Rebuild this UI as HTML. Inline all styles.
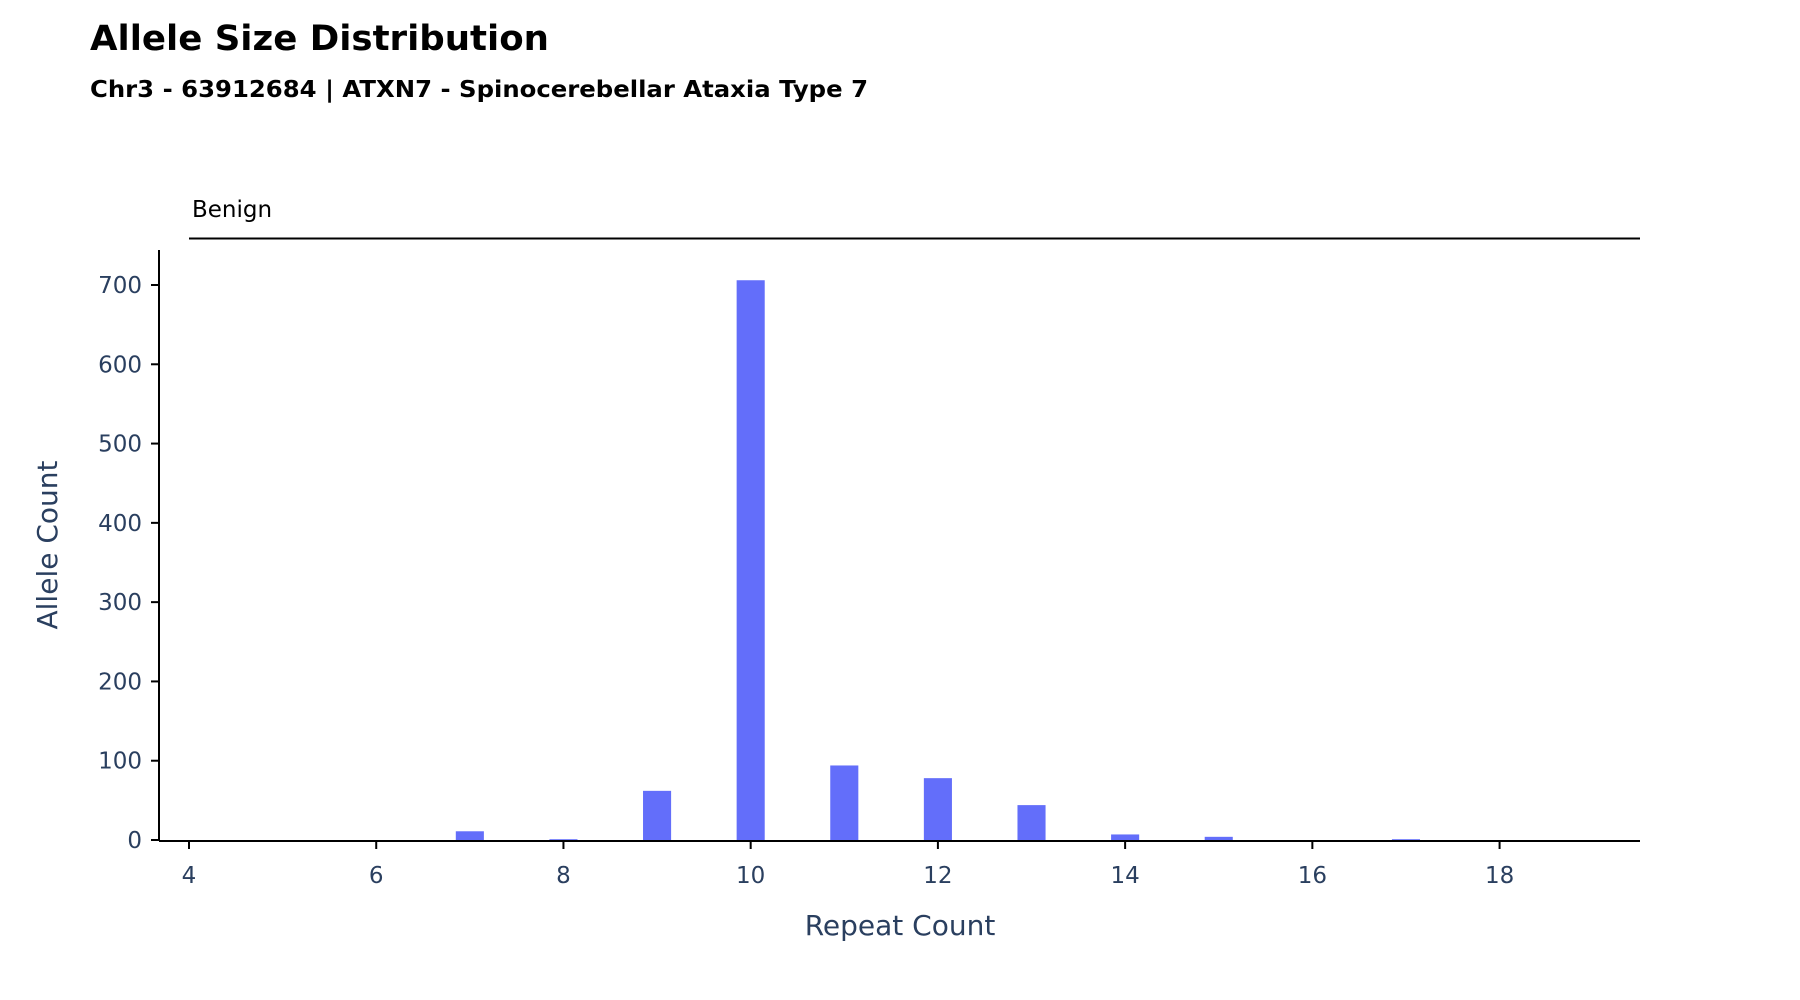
<!DOCTYPE html>
<html><head><meta charset="utf-8">
<style>
html,body{margin:0;padding:0;background:#fff;}
svg{display:block;font-family:"DejaVu Sans","Liberation Sans",sans-serif;}
</style></head>
<body>
<svg id="chart" width="1800" height="1000" viewBox="0 0 1800 1000">
<text x="90" y="50" font-size="35" font-weight="bold" fill="#000" textLength="459" lengthAdjust="spacingAndGlyphs">Allele Size Distribution</text>
<text x="90" y="97" font-size="23" font-weight="bold" fill="#000" textLength="778" lengthAdjust="spacingAndGlyphs">Chr3 - 63912684 | ATXN7 - Spinocerebellar Ataxia Type 7</text>
<text x="192" y="217" font-size="23" fill="#000">Benign</text>
<line x1="189" y1="238.5" x2="1640" y2="238.5" stroke="#000" stroke-width="2"/>
<g id="bars"></g>
<g id="axes"></g>
<text x="900" y="935" font-size="28" fill="#2a3f5f" text-anchor="middle">Repeat Count</text>
<text transform="translate(57,545) rotate(-90)" font-size="28" fill="#2a3f5f" text-anchor="middle">Allele Count</text>
</svg>
<script>
const categories = [7, 8, 9, 10, 11, 12, 13, 14, 15, 17];
const counts = [11, 1, 62, 706, 94, 78, 44, 7, 4, 1];
const xTicks = [4, 6, 8, 10, 12, 14, 16, 18];
const yTicks = [0, 100, 200, 300, 400, 500, 600, 700];

const NS = "http://www.w3.org/2000/svg";
const X0 = 189, X1 = 1640, XMIN = 4, XMAX = 19.5;
const Y0 = 840, YPX = 555 / 700;
function xScale(v){ return X0 + (v - XMIN) * (X1 - X0) / (XMAX - XMIN); }
function yScale(v){ return Y0 - v * YPX; }
const bw = 0.3 * (X1 - X0) / (XMAX - XMIN);

const bars = document.getElementById('bars');
categories.forEach((c, i) => {
  const r = document.createElementNS(NS, 'rect');
  r.setAttribute('x', xScale(c) - bw / 2);
  r.setAttribute('y', yScale(counts[i]));
  r.setAttribute('width', bw);
  r.setAttribute('height', Y0 - yScale(counts[i]));
  r.setAttribute('fill', '#636efa');
  
  
  bars.appendChild(r);
});

const axes = document.getElementById('axes');
function line(x1, y1, x2, y2, name){
  const l = document.createElementNS(NS, 'line');
  l.setAttribute('x1', x1); l.setAttribute('y1', y1);
  l.setAttribute('x2', x2); l.setAttribute('y2', y2);
  l.setAttribute('stroke', '#000'); l.setAttribute('stroke-width', '2');
  
  
  axes.appendChild(l);
}
function text(x, y, s, anchor, name){
  const t = document.createElementNS(NS, 'text');
  t.setAttribute('x', x); t.setAttribute('y', y);
  t.setAttribute('font-size', '23'); t.setAttribute('fill', '#2a3f5f');
  t.setAttribute('text-anchor', anchor);
  t.textContent = s;
  
  
  axes.appendChild(t);
}
line(159, 250, 159, 841, 'y-axis-line');
line(159, 841, X1, 841, 'x-axis-line');
yTicks.forEach(v => {
  const y = yScale(v);
  line(151, y, 159, y, 'y-tick');
  text(142, y + 8, String(v), 'end', 'y-tick-label');
});
xTicks.forEach(v => {
  const x = xScale(v);
  line(x, 841, x, 849, 'x-tick');
  text(x, 883, String(v), 'middle', 'x-tick-label');
});
</script>
</body></html>
